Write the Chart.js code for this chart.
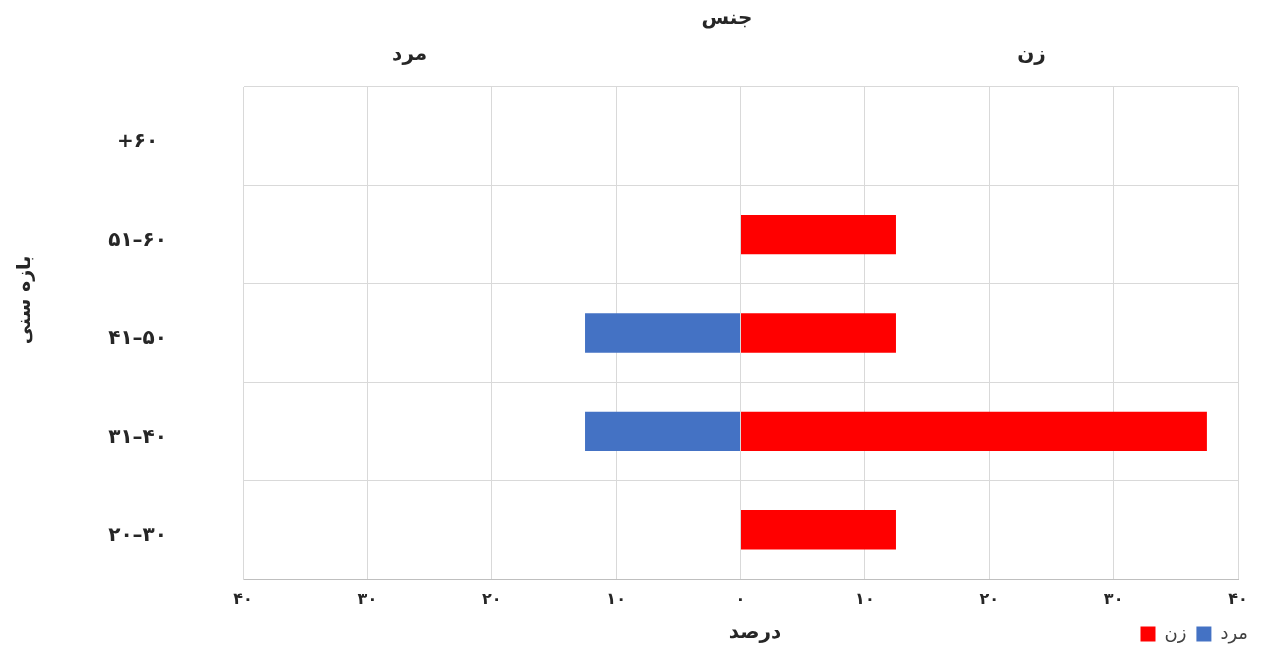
<!DOCTYPE html>
<html>
<head>
<meta charset="utf-8">
<script src="https://cdn.jsdelivr.net/npm/chart.js@4.4.1/dist/chart.umd.min.js"></script>
<style>
  html, body { margin: 0; padding: 0; background: #fff; }
  #wrap { width: 1267px; height: 649px; }
</style>
</head>
<body>
<div id="wrap"><canvas id="pyramid"></canvas></div>
<script>
const ageGroups = ['+۶۰', '۵۱–۶۰', '۴۱–۵۰', '۳۱–۴۰', '۲۰–۳۰'];
const female = [0, 12.5, 12.5, 37.5, 12.5];
const male = [0, 0, 12.5, 12.5, 0];
const xTicks = [-40, -30, -20, -10, 0, 10, 20, 30, 40];

const faDigits = '۰۱۲۳۴۵۶۷۸۹';
const toFa = n => String(n).replace(/\d/g, d => faDigits[d]);
const FONT = "'DejaVu Sans', sans-serif";

// headers above the plot, y title and the x title next to the legend
const headers = {
  id: 'headers',
  afterDraw(chart) {
    const ctx = chart.ctx;
    const x = chart.scales.x;
    ctx.save();
    ctx.fillStyle = '#262626';
    ctx.textAlign = 'center';
    ctx.textBaseline = 'middle';
    ctx.font = 'bold 20px ' + FONT;
    ctx.fillText('جنس', 727, 19);
    ctx.fillText('مرد', x.getPixelForValue(-26.6), 55);
    ctx.fillText('زن', x.getPixelForValue(23.4), 55);
    ctx.fillText('درصد', 755, 633);
    ctx.font = 'bold 19px ' + FONT;
    ctx.translate(25, 300);
    ctx.rotate(-Math.PI / 2);
    ctx.fillText('بازه سنی', 0, 0);
    ctx.restore();
  }
};

new Chart(document.getElementById('pyramid'), {
  type: 'bar',
  data: {
    labels: ageGroups,
    datasets: [
      {
        label: 'زن',
        data: female,
        backgroundColor: '#ff0000',
        borderWidth: 0
      },
      {
        label: 'مرد',
        data: male.map(v => -v),
        backgroundColor: '#4472c4',
        borderWidth: 0
      }
    ]
  },
  options: {
    indexAxis: 'y',
    responsive: true,
    maintainAspectRatio: false,
    animation: false,
    layout: { padding: { top: 87, right: 9, left: 0, bottom: 0 } },
    datasets: { bar: { barPercentage: 0.4, categoryPercentage: 1 } },
    plugins: {
      legend: {
        position: 'bottom',
        align: 'end',
        maxHeight: 34,
        labels: {
          boxWidth: 15,
          boxHeight: 15,
          padding: 10,
          color: '#404040',
          font: { family: FONT, size: 18, lineHeight: 1 }
        }
      },
      tooltip: { enabled: true }
    },
    scales: {
      x: {
        stacked: true,
        min: -40,
        max: 40,
        afterBuildTicks: s => { s.ticks = xTicks.map(v => ({ value: v })); },
        // fixed strip height, and room on the right so the plot ends short of the legend
        afterFit: s => { s.height = 36; s.paddingRight = 29; s.paddingLeft = 0; },
        ticks: {
          callback: v => toFa(Math.abs(v)),
          color: '#262626',
          padding: 11,
          font: { family: FONT, size: 16, weight: 'bold' }
        },
        grid: { color: '#d9d9d9', drawTicks: false },
        border: { color: '#bfbfbf' }
      },
      y: {
        stacked: true,
        afterFit: s => { s.width = 243; s.paddingTop = 0; s.paddingBottom = 0; },
        ticks: {
          crossAlign: 'center',
          labelOffset: 6,
          color: '#262626',
          padding: 76,
          font: { family: FONT, size: 20, weight: 'bold' }
        },
        grid: { color: '#d9d9d9', drawTicks: false },
        border: { color: '#d9d9d9' }
      }
    }
  },
  plugins: [headers]
});
</script>
</body>
</html>
